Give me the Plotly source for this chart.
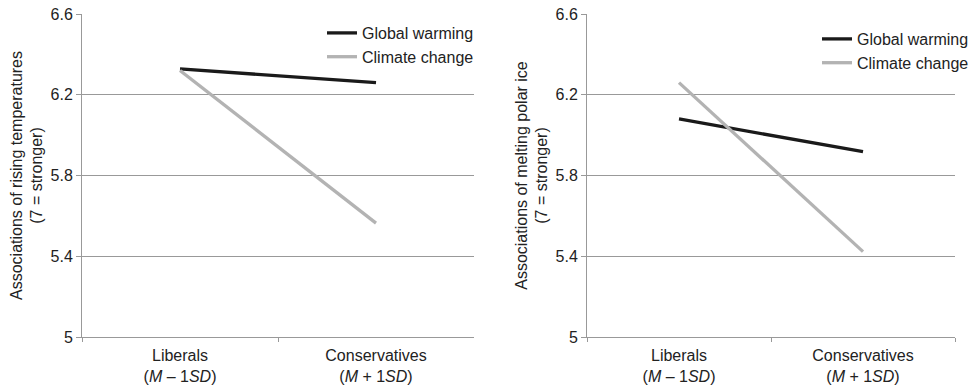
import plotly.graph_objects as go

categories = ["Liberals<br>(<i>M</i> – 1<i>SD</i>)", "Conservatives<br>(<i>M</i> + 1<i>SD</i>)"]
series_names = ["Global warming", "Climate change"]
temp_global = [6.328, 6.26]
temp_climate = [6.32, 5.564]
ice_global = [6.08, 5.918]
ice_climate = [6.26, 5.423]
y_ticks = [5, 5.4, 5.8, 6.2, 6.6]
y_ticklabels = ["5", "5.4", "5.8", "6.2", "6.6"]
y_titles = ["Associations of rising temperatures<br>(7 = stronger)",
            "Associations of melting polar ice<br>(7 = stronger)"]

colors = ["#1a1a1a", "#b3b3b3"]
W, H = 974, 387
fig = go.Figure()

panels = [(temp_global, temp_climate, "x", "y", "legend"),
          (ice_global, ice_climate, "x2", "y2", "legend2")]
for gw, cc, xa, ya, lg in panels:
    for name, vals, col in zip(series_names, [gw, cc], colors):
        fig.add_trace(go.Scatter(x=categories, y=vals, mode="lines", name=name,
                                 line=dict(color=col, width=3.3),
                                 xaxis=xa, yaxis=ya, legend=lg))

font = dict(family="Liberation Sans, Arial, sans-serif", color="#222", size=16)
axis_common_x = dict(type="category", range=[-0.5, 1.5], showgrid=False,
                     showline=True, linecolor="#999", linewidth=1,
                     ticks="outside", tickson="boundaries", ticklen=4,
                     tickcolor="#999", tickfont=dict(size=16, color="#222"),
                     ticklabelstandoff=4)
axis_common_y = dict(range=[5, 6.6], tickvals=y_ticks, ticktext=y_ticklabels,
                     showgrid=True, gridcolor="#999", gridwidth=1,
                     showline=True, linecolor="#999", linewidth=1,
                     ticks="outside", ticklen=5, tickcolor="#999",
                     tickfont=dict(size=16, color="#222"), zeroline=False,
                     title=dict(font=dict(size=16, color="#222"), standoff=3))

fig.update_layout(
    width=W, height=H, font=font,
    paper_bgcolor="white", plot_bgcolor="white",
    margin=dict(l=0, r=0, t=14, b=50),
    xaxis=dict(domain=[82 / W, 474 / W], anchor="y", **axis_common_x),
    xaxis2=dict(domain=[587 / W, 955 / W], anchor="y2", **axis_common_x),
    yaxis=dict(domain=[0, 1], anchor="x", **axis_common_y),
    yaxis2=dict(domain=[0, 1], anchor="x2", **axis_common_y),
    legend=dict(x=322 / W, y=1 - 2 / 323, xanchor="left", yanchor="top",
                bgcolor="rgba(0,0,0,0)", font=dict(size=16, color="#222"),
                tracegroupgap=0, itemwidth=30),
    legend2=dict(x=817 / W, y=1 - 8 / 323, xanchor="left", yanchor="top",
                 bgcolor="rgba(0,0,0,0)", font=dict(size=16, color="#222"),
                 tracegroupgap=0, itemwidth=30),
)
fig.layout.yaxis.title.text = y_titles[0]
fig.layout.yaxis2.title.text = y_titles[1]

fig.write_html("out.html", config={"displayModeBar": False},
               post_script="document.body.style.margin='0';document.body.style.overflow='hidden';")
